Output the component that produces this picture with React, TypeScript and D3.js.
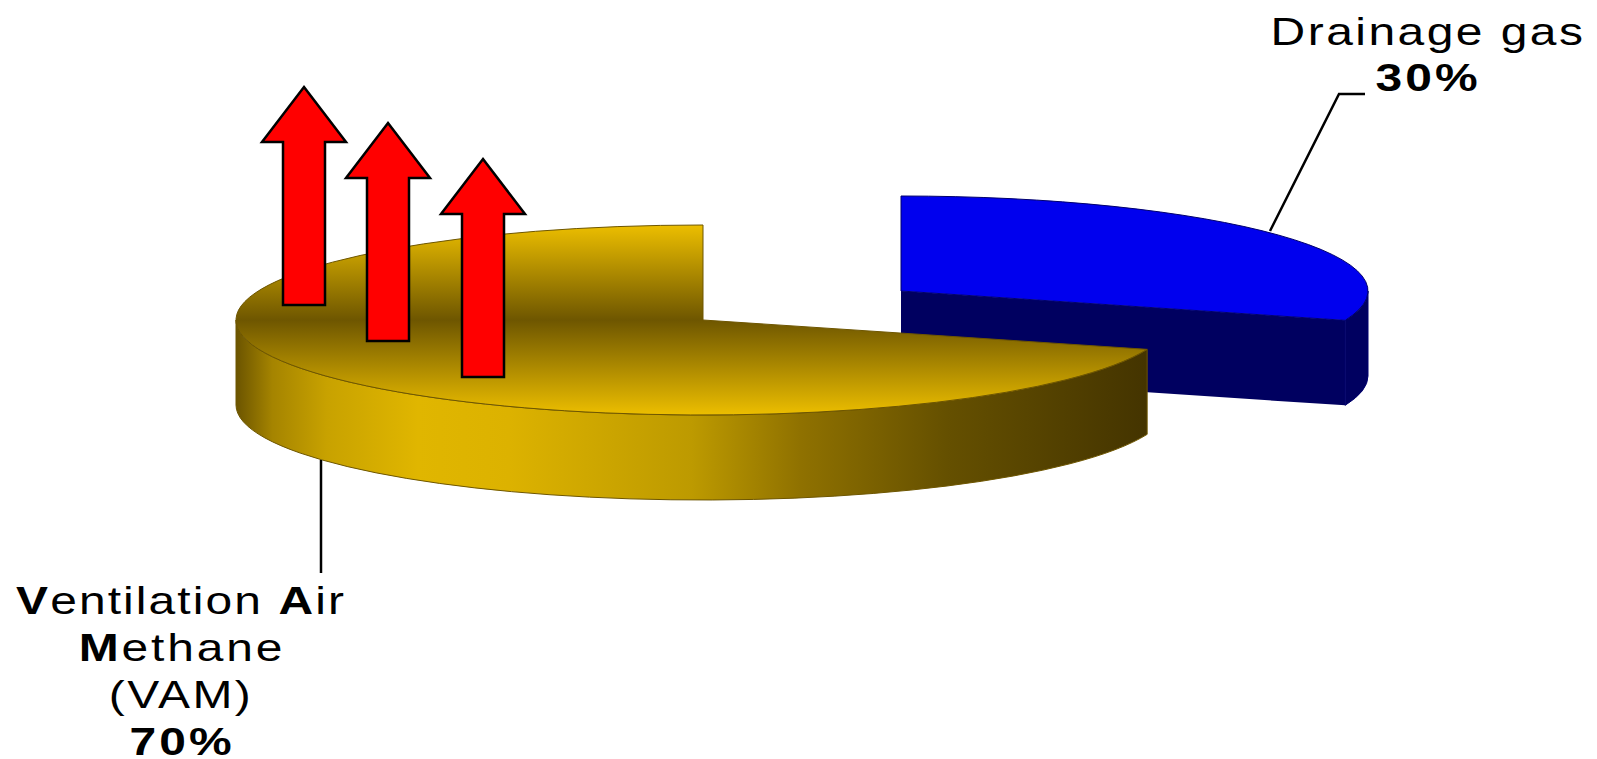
import React from "react";
import * as d3 from "d3";

const categories = ["Drainage gas", "Ventilation Air Methane (VAM)"];
const shares = [30, 70];
const sliceTop = ["#0000ee", "url(#goldTop)"];
const sliceSide = ["#000060", "url(#goldSide)"];
const sliceEdge = ["#00006e", "#6e5600"];

const width = 1597;
const height = 759;
const rx = 467;
const ry = 95;
const depth = 85;
// centre of each slice, the blue one is pulled out
const centres = [
    { x: 901, y: 291 },
    { x: 703, y: 320 },
];

const arrowTips = [
    { x: 304, y: 87 },
    { x: 388, y: 123 },
    { x: 483, y: 159 },
];

const goldSideStops = [
    [0, "#6b5400"],
    [0.04, "#a58400"],
    [0.1, "#c8a200"],
    [0.2, "#e0b600"],
    [0.3, "#dcb200"],
    [0.5, "#bd9a00"],
    [0.62, "#8f7100"],
    [0.78, "#655000"],
    [1, "#443400"],
];

const pie = d3.pie<number>().sort(null).startAngle(0).endAngle(2 * Math.PI);
const slices = pie(shares);
const arcTop = d3.arc<d3.PieArcDatum<number>>().innerRadius(0).outerRadius(rx);

const rim = (c: { x: number; y: number }, a: number, dy = 0) => [
    c.x + rx * Math.sin(a),
    c.y - ry * Math.cos(a) + dy,
];

// outer wall, only the part facing the viewer (90deg to 270deg)
const wallPath = (c: { x: number; y: number }, start: number, end: number) => {
    const a0 = Math.max(start, Math.PI / 2);
    const a1 = Math.min(end, (3 * Math.PI) / 2);
    if (a1 <= a0) return "";
    const large = a1 - a0 > Math.PI ? 1 : 0;
    const p0 = rim(c, a0);
    const p1 = rim(c, a1);
    const q1 = rim(c, a1, depth);
    const q0 = rim(c, a0, depth);
    return `M${p0}A${rx},${ry} 0 ${large} 1 ${p1}L${q1}A${rx},${ry} 0 ${large} 0 ${q0}Z`;
};

// cut face running from the centre to the slice's first edge
const cutPath = (c: { x: number; y: number }, a: number) => {
    const p = rim(c, a);
    const q = rim(c, a, depth);
    return d3.line()([
        [c.x, c.y],
        [p[0], p[1]],
        [q[0], q[1]],
        [c.x, c.y + depth],
    ]);
};

const arrowPath = (tip: { x: number; y: number }) =>
    d3.line()([
        [tip.x, tip.y],
        [tip.x + 42, tip.y + 55],
        [tip.x + 21, tip.y + 55],
        [tip.x + 21, tip.y + 218],
        [tip.x - 21, tip.y + 218],
        [tip.x - 21, tip.y + 55],
        [tip.x - 42, tip.y + 55],
    ]) + "Z";

const leaderLine = d3.line();
const font = "'Liberation Sans', Arial, sans-serif";

const Label = ({ x, y, spacing = 2, children }: any) => (
    <g transform={`translate(${x},${y}) scale(1.23,1)`}>
        <text
            textAnchor="middle"
            fontFamily={font}
            fontSize={39}
            letterSpacing={spacing}
            fill="#000"
        >
            {children}
        </text>
    </g>
);

const App = () => {
    return (
        <svg
            width={width}
            height={height}
            viewBox={`0 0 ${width} ${height}`}
            style={{ position: "absolute", left: 0, top: 0, display: "block", background: "#fff" }}
        >
            <defs>
                <linearGradient id="goldTop" x1="0" y1="0" x2="0" y2="1">
                    <stop offset="0" stopColor="#ecbe00" />
                    <stop offset="0.5" stopColor="#6e5600" />
                    <stop offset="1" stopColor="#ecbe00" />
                </linearGradient>
                <linearGradient
                    id="goldSide"
                    gradientUnits="userSpaceOnUse"
                    x1={centres[1].x - rx}
                    y1="0"
                    x2={rim(centres[1], slices[1].startAngle)[0]}
                    y2="0"
                >
                    {goldSideStops.map(([o, c]) => (
                        <stop key={o as number} offset={o as number} stopColor={c as string} />
                    ))}
                </linearGradient>
            </defs>

            {slices.map((s, i) => (
                <g key={categories[i]}>
                    {i === 0 && (
                        <path d={cutPath(centres[i], s.endAngle) || ""} fill={sliceSide[i]} />
                    )}
                    <path
                        d={wallPath(centres[i], s.startAngle, s.endAngle)}
                        fill={sliceSide[i]}
                        stroke={sliceEdge[i]}
                        strokeWidth={1}
                    />
                    <path
                        d={arcTop(s) || ""}
                        transform={`translate(${centres[i].x},${centres[i].y}) scale(1,${ry / rx})`}
                        fill={sliceTop[i]}
                        stroke={sliceEdge[i]}
                        strokeWidth={1}
                        vectorEffect="non-scaling-stroke"
                    />
                </g>
            ))}

            {arrowTips.map((t) => (
                <path key={t.x} d={arrowPath(t)} fill="#ff0000" stroke="#000" strokeWidth={2.5} />
            ))}

            <path
                d={leaderLine([[1270, 231], [1339, 94], [1365, 94]]) || ""}
                fill="none"
                stroke="#000"
                strokeWidth={2.5}
            />
            <path
                d={leaderLine([[321, 460], [321, 573]]) || ""}
                fill="none"
                stroke="#000"
                strokeWidth={2.5}
            />

            <Label x={1428} y={45}>{categories[0]}</Label>
            <Label x={1428} y={91} spacing={2.5}><tspan fontWeight="bold">{shares[0]}%</tspan></Label>

            <Label x={181} y={614} spacing={1.7}>
                <tspan fontWeight="bold">V</tspan>entilation <tspan fontWeight="bold">A</tspan>ir
            </Label>
            <Label x={182} y={661} spacing={2.3}>
                <tspan fontWeight="bold">M</tspan>ethane
            </Label>
            <Label x={181} y={708}>(VAM)</Label>
            <Label x={182} y={755} spacing={2.5}><tspan fontWeight="bold">{shares[1]}%</tspan></Label>
        </svg>
    );
};

export default App;
